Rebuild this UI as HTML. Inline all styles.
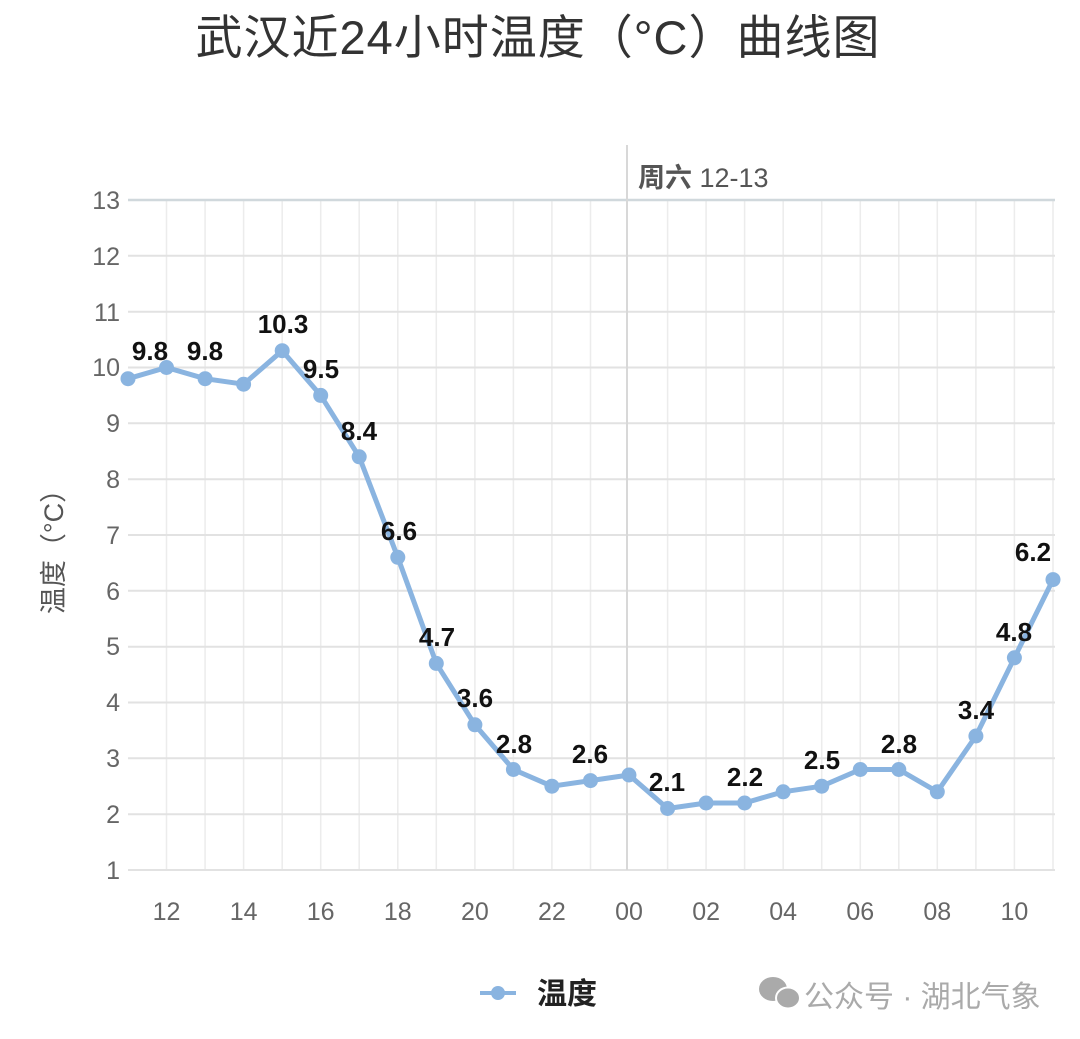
<!DOCTYPE html>
<html><head><meta charset="utf-8"><style>
html,body{margin:0;padding:0;background:#fff;width:1080px;height:1039px;overflow:hidden}
text{font-family:"Liberation Sans","Noto Sans CJK SC",sans-serif}
</style></head><body>
<svg width="1080" height="1039" xmlns="http://www.w3.org/2000/svg">
<text x="538" y="54" text-anchor="middle" font-size="47" fill="#333" style="letter-spacing:1px">武汉近24小时温度（°C）曲线图</text>
<g stroke="#ececec" stroke-width="1.5">
<line x1="166.5" y1="200" x2="166.5" y2="870"/><line x1="205.1" y1="200" x2="205.1" y2="870"/><line x1="243.6" y1="200" x2="243.6" y2="870"/><line x1="282.2" y1="200" x2="282.2" y2="870"/><line x1="320.7" y1="200" x2="320.7" y2="870"/><line x1="359.2" y1="200" x2="359.2" y2="870"/><line x1="397.8" y1="200" x2="397.8" y2="870"/><line x1="436.3" y1="200" x2="436.3" y2="870"/><line x1="474.9" y1="200" x2="474.9" y2="870"/><line x1="513.4" y1="200" x2="513.4" y2="870"/><line x1="551.9" y1="200" x2="551.9" y2="870"/><line x1="590.5" y1="200" x2="590.5" y2="870"/><line x1="667.6" y1="200" x2="667.6" y2="870"/><line x1="706.1" y1="200" x2="706.1" y2="870"/><line x1="744.6" y1="200" x2="744.6" y2="870"/><line x1="783.2" y1="200" x2="783.2" y2="870"/><line x1="821.7" y1="200" x2="821.7" y2="870"/><line x1="860.3" y1="200" x2="860.3" y2="870"/><line x1="898.8" y1="200" x2="898.8" y2="870"/><line x1="937.3" y1="200" x2="937.3" y2="870"/><line x1="975.9" y1="200" x2="975.9" y2="870"/><line x1="1014.4" y1="200" x2="1014.4" y2="870"/><line x1="1053" y1="200" x2="1053" y2="870"/>
</g>
<g stroke="#e2e2e2" stroke-width="2">
<line x1="128" y1="255.8" x2="1055" y2="255.8"/><line x1="128" y1="311.7" x2="1055" y2="311.7"/><line x1="128" y1="367.5" x2="1055" y2="367.5"/><line x1="128" y1="423.3" x2="1055" y2="423.3"/><line x1="128" y1="479.2" x2="1055" y2="479.2"/><line x1="128" y1="535" x2="1055" y2="535"/><line x1="128" y1="590.8" x2="1055" y2="590.8"/><line x1="128" y1="646.7" x2="1055" y2="646.7"/><line x1="128" y1="702.5" x2="1055" y2="702.5"/><line x1="128" y1="758.3" x2="1055" y2="758.3"/><line x1="128" y1="814.2" x2="1055" y2="814.2"/><line x1="128" y1="870" x2="1055" y2="870"/>
</g>
<line x1="128" y1="200" x2="1055" y2="200" stroke="#d0d8dc" stroke-width="2.5"/>
<line x1="627" y1="145" x2="627" y2="870" stroke="#d8d8d8" stroke-width="2"/>
<text x="638" y="187" font-size="27" fill="#555"><tspan font-weight="bold">周六</tspan> 12-13</text>
<g font-size="25" fill="#666" text-anchor="end">
<text x="120" y="209">13</text><text x="120" y="265">12</text><text x="120" y="321">11</text><text x="120" y="376">10</text><text x="120" y="432">9</text><text x="120" y="488">8</text><text x="120" y="544">7</text><text x="120" y="600">6</text><text x="120" y="655">5</text><text x="120" y="711">4</text><text x="120" y="767">3</text><text x="120" y="823">2</text><text x="120" y="879">1</text>
</g>
<text transform="translate(63,545) rotate(-90)" text-anchor="middle" font-size="27" fill="#555">温度（°C）</text>
<g font-size="25" fill="#666" text-anchor="middle">
<text x="166.5" y="920">12</text><text x="243.6" y="920">14</text><text x="320.7" y="920">16</text><text x="397.8" y="920">18</text><text x="474.9" y="920">20</text><text x="551.9" y="920">22</text><text x="629" y="920">00</text><text x="706.1" y="920">02</text><text x="783.2" y="920">04</text><text x="860.3" y="920">06</text><text x="937.3" y="920">08</text><text x="1014.4" y="920">10</text>
</g>
<polyline fill="none" stroke="#8ab4e0" stroke-width="5" stroke-linejoin="round" points="128,378.7 166.5,367.5 205.1,378.7 243.6,384.2 282.2,350.7 320.7,395.4 359.2,456.8 397.8,557.3 436.3,663.4 474.9,724.8 513.4,769.5 551.9,786.2 590.5,780.6 629,775 667.6,808.5 706.1,803 744.6,803 783.2,791.8 821.7,786.2 860.3,769.5 898.8,769.5 937.3,791.8 975.9,736 1014.4,657.8 1053,579.6"/>
<g fill="#8ab4e0">
<circle cx="128" cy="378.7" r="7.5"/><circle cx="166.5" cy="367.5" r="7.5"/><circle cx="205.1" cy="378.7" r="7.5"/><circle cx="243.6" cy="384.2" r="7.5"/><circle cx="282.2" cy="350.7" r="7.5"/><circle cx="320.7" cy="395.4" r="7.5"/><circle cx="359.2" cy="456.8" r="7.5"/><circle cx="397.8" cy="557.3" r="7.5"/><circle cx="436.3" cy="663.4" r="7.5"/><circle cx="474.9" cy="724.8" r="7.5"/><circle cx="513.4" cy="769.5" r="7.5"/><circle cx="551.9" cy="786.2" r="7.5"/><circle cx="590.5" cy="780.6" r="7.5"/><circle cx="629" cy="775" r="7.5"/><circle cx="667.6" cy="808.5" r="7.5"/><circle cx="706.1" cy="803" r="7.5"/><circle cx="744.6" cy="803" r="7.5"/><circle cx="783.2" cy="791.8" r="7.5"/><circle cx="821.7" cy="786.2" r="7.5"/><circle cx="860.3" cy="769.5" r="7.5"/><circle cx="898.8" cy="769.5" r="7.5"/><circle cx="937.3" cy="791.8" r="7.5"/><circle cx="975.9" cy="736" r="7.5"/><circle cx="1014.4" cy="657.8" r="7.5"/><circle cx="1053" cy="579.6" r="7.5"/>
</g>
<g font-size="26" font-weight="bold" fill="#111" text-anchor="middle">
<text x="150" y="360">9.8</text><text x="205" y="360">9.8</text><text x="283" y="333">10.3</text><text x="321" y="378">9.5</text><text x="359" y="440">8.4</text><text x="399" y="540">6.6</text><text x="437" y="646">4.7</text><text x="475" y="707">3.6</text><text x="514" y="753">2.8</text><text x="590" y="763">2.6</text><text x="667" y="791">2.1</text><text x="745" y="786">2.2</text><text x="822" y="769">2.5</text><text x="899" y="753">2.8</text><text x="976" y="719">3.4</text><text x="1014" y="641">4.8</text><text x="1033" y="561">6.2</text>
</g>
<line x1="480" y1="993" x2="516" y2="993" stroke="#8ab4e0" stroke-width="4"/>
<circle cx="498" cy="993" r="7" fill="#8ab4e0"/>
<text x="537" y="1004" font-size="30" font-weight="bold" fill="#222">温度</text>
<g fill="#aaa">
<ellipse cx="773" cy="989" rx="14" ry="12"/><ellipse cx="788" cy="998" rx="12" ry="10.5" stroke="#fff" stroke-width="2"/>
</g>
<text x="804" y="1007" font-size="30" fill="#aaa">公众号 · 湖北气象</text>
</svg>
</body></html>
